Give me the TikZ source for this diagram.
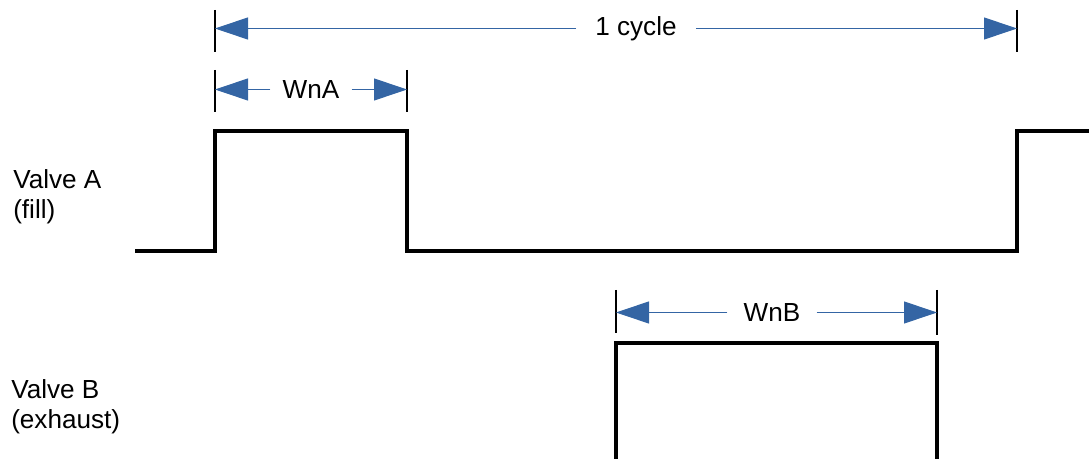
\documentclass[tikz,border=0pt]{standalone}
\usepackage{fontspec}
\setmainfont{Liberation Sans}
\usetikzlibrary{arrows.meta}
\definecolor{dimblue}{RGB}{52,101,164}
\begin{document}
\begin{tikzpicture}[x=0.75pt,y=-0.75pt,
  wave/.style={line width=2.3pt,line join=miter},
  tick/.style={line width=0.8pt,black},
  dimline/.style={draw=dimblue,line width=0.75pt,-{Triangle[length=24.75pt,width=16.5pt,fill=dimblue]}},
  dimtext/.style={font=\fontsize{19.6}{23}\selectfont,inner ysep=0pt},
  lbl/.style={font=\fontsize{19.6}{22.5}\selectfont,align=left,anchor=north west,inner sep=0pt}]
\useasboundingbox (0,0) rectangle (1089,459);
% labels
\node[lbl] (va) at (13,169) {Valve A\\(fill)};
\node[lbl] (vb) at (11,379) {Valve B\\(exhaust)};
% waveform A
\draw[wave] (135,251) -- (215,251) -- (215,131) -- (407,131) -- (407,251) -- (1017,251) -- (1017,131) -- (1090,131);
% waveform B
\draw[wave] (616,460) -- (616,343) -- (937,343) -- (937,460);
% 1 cycle
\coordinate (c1) at (215,28.5);
\coordinate (c2) at (1017,28.5);
\draw[tick] (215,10) -- (215,52);
\draw[tick] (1017,10) -- (1017,52);
\node[dimtext,inner xsep=19pt*0.75] (cyc) at (636,28.5) {1 cycle};
\draw[dimline] (cyc.west) -- (c1);
\draw[dimline] (cyc.east) -- (c2);
% WnA
\coordinate (a1) at (215,89.5);
\coordinate (a2) at (407,89.5);
\draw[tick] (215,70) -- (215,112);
\draw[tick] (407,70) -- (407,112);
\node[dimtext,inner xsep=12pt*0.75] (wna) at (311,89.5) {WnA};
\draw[dimline] (wna.west) -- (a1);
\draw[dimline] (wna.east) -- (a2);
% WnB
\coordinate (b1) at (616,312.5);
\coordinate (b2) at (937,312.5);
\draw[tick] (616,290) -- (616,333);
\draw[tick] (937,290) -- (937,335);
\node[dimtext,inner xsep=16pt*0.75] (wnb) at (772,312.5) {WnB};
\draw[dimline] (wnb.west) -- (b1);
\draw[dimline] (wnb.east) -- (b2);
\end{tikzpicture}
\end{document}
